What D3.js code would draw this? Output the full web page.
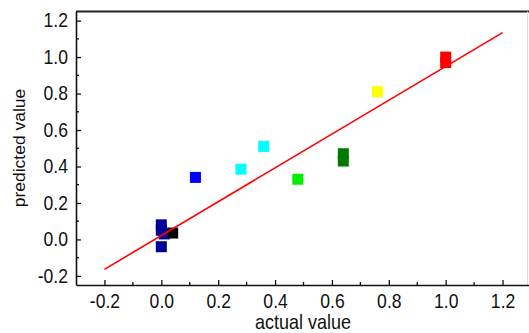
<!DOCTYPE html>
<html>
<head>
<meta charset="utf-8">
<script src="https://cdn.jsdelivr.net/npm/d3@7"></script>
<style>
  body { margin: 0; background: #fff; }
  svg { display: block; }
  text { font-family: "Liberation Sans", Arial, sans-serif; fill: #111; }
</style>
</head>
<body>
<div id="chart"></div>
<script>
// points: actual vs predicted
var actual    = [0.00, 0.01, 0.00, 0.00, 0.04, 0.12, 0.28, 0.36, 0.48, 0.64, 0.64, 0.76, 1.00, 1.00];
var predicted = [0.08, 0.03, -0.04, 0.05, 0.035, 0.34, 0.385, 0.51, 0.33, 0.47, 0.43, 0.81, 1.00, 0.97];
var colors    = ["#000099", "#000099", "#000099", "#000099", "#000000", "#0000ff", "#00ffff", "#00ffff",
                 "#00ee00", "#007a00", "#007a00", "#ffff00", "#ff0000", "#ff0000"];

// fitted line end points
var fitX = [-0.2, 1.2];
var fitY = [-0.164, 1.134];

var xTicks = [-0.2, 0.0, 0.2, 0.4, 0.6, 0.8, 1.0, 1.2];
var yTicks = [-0.2, 0.0, 0.2, 0.4, 0.6, 0.8, 1.0, 1.2];
var xMinor = [-0.1, 0.1, 0.3, 0.5, 0.7, 0.9, 1.1];
var yMinor = [-0.1, 0.1, 0.3, 0.5, 0.7, 0.9, 1.1];

var width = 529, height = 333;
var mLeft = 76, mRight = 531, mTop = 11.5, mBottom = 285;
var squeeze = 0.9; // text in the picture is a bit narrow

var svg = d3.select("#chart").append("svg")
    .attr("width", width)
    .attr("height", height);

var x = d3.scaleLinear().domain([-0.3, 1.3]).range([mLeft, mRight]);
var y = d3.scaleLinear().domain([-0.25, 1.25]).range([mBottom, mTop]);

// frame: top line and a faint right edge
svg.append("line")
    .attr("x1", mLeft).attr("x2", width)
    .attr("y1", mTop).attr("y2", mTop)
    .style("stroke", "#222").style("stroke-width", 2);
svg.append("line")
    .attr("x1", 527.5).attr("x2", 527.5)
    .attr("y1", mTop).attr("y2", mBottom)
    .style("stroke", "#ddd").style("stroke-width", 1);

var fmt = function(d) { return d3.format(".1f")(d).replace("\u2212", "-"); };

// bottom axis, ticks pointing inward
var xAxis = svg.append("g")
    .attr("transform", "translate(0," + mBottom + ")")
    .call(d3.axisBottom(x).tickValues(xTicks).tickSizeInner(-5).tickSizeOuter(0).tickFormat(fmt));
xAxis.attr("font-family", null).attr("font-size", null);
xAxis.select(".domain").style("stroke", "#111").style("stroke-width", 1.6);
xAxis.selectAll(".tick line").style("stroke", "#111").style("stroke-width", 1.3);
xAxis.selectAll(".tick text")
    .attr("y", 23).attr("dy", 0)
    .attr("transform", "scale(" + squeeze + ",1)")
    .style("font-size", "19.5px");
xAxis.selectAll(".minor").data(xMinor).enter().append("line")
    .attr("class", "minor")
    .attr("x1", function(d) { return x(d); }).attr("x2", function(d) { return x(d); })
    .attr("y1", 0).attr("y2", -3)
    .style("stroke", "#111").style("stroke-width", 1.3);

// left axis
var yAxis = svg.append("g")
    .attr("transform", "translate(" + mLeft + ",0)")
    .call(d3.axisLeft(y).tickValues(yTicks).tickSizeInner(-5).tickSizeOuter(0).tickFormat(fmt));
yAxis.attr("font-family", null).attr("font-size", null);
yAxis.select(".domain").style("stroke", "#111").style("stroke-width", 1.6);
yAxis.selectAll(".tick line").style("stroke", "#111").style("stroke-width", 1.3);
yAxis.selectAll(".tick text")
    .attr("x", -8 / squeeze)
    .attr("transform", "scale(" + squeeze + ",1)")
    .style("font-size", "19.5px");
yAxis.selectAll(".minor").data(yMinor).enter().append("line")
    .attr("class", "minor")
    .attr("y1", function(d) { return y(d); }).attr("y2", function(d) { return y(d); })
    .attr("x1", 0).attr("x2", 3)
    .style("stroke", "#111").style("stroke-width", 1.3);

// axis titles
svg.append("text")
    .attr("transform", "translate(303,328.5) scale(" + squeeze + ",1)")
    .attr("text-anchor", "middle")
    .style("font-size", "20px")
    .text("actual value");
svg.append("text")
    .attr("transform", "translate(25,148) rotate(-90) scale(1," + squeeze + ")")
    .attr("text-anchor", "middle")
    .style("font-size", "17.5px")
    .text("predicted value");

// squares
var s = 11;
svg.selectAll(".pt")
    .data(actual.map(function(d, i) { return { a: d, p: predicted[i], c: colors[i] }; }))
    .enter().append("rect")
    .attr("class", "pt")
    .attr("x", function(d) { return x(d.a) - s / 2; })
    .attr("y", function(d) { return y(d.p) - s / 2; })
    .attr("width", s)
    .attr("height", s)
    .style("fill", function(d) { return d.c; });

// fitted line
svg.append("line")
    .attr("x1", x(fitX[0])).attr("y1", y(fitY[0]))
    .attr("x2", x(fitX[1])).attr("y2", y(fitY[1]))
    .style("stroke", "#ff0000").style("stroke-width", 1.6);
</script>
</body>
</html>
